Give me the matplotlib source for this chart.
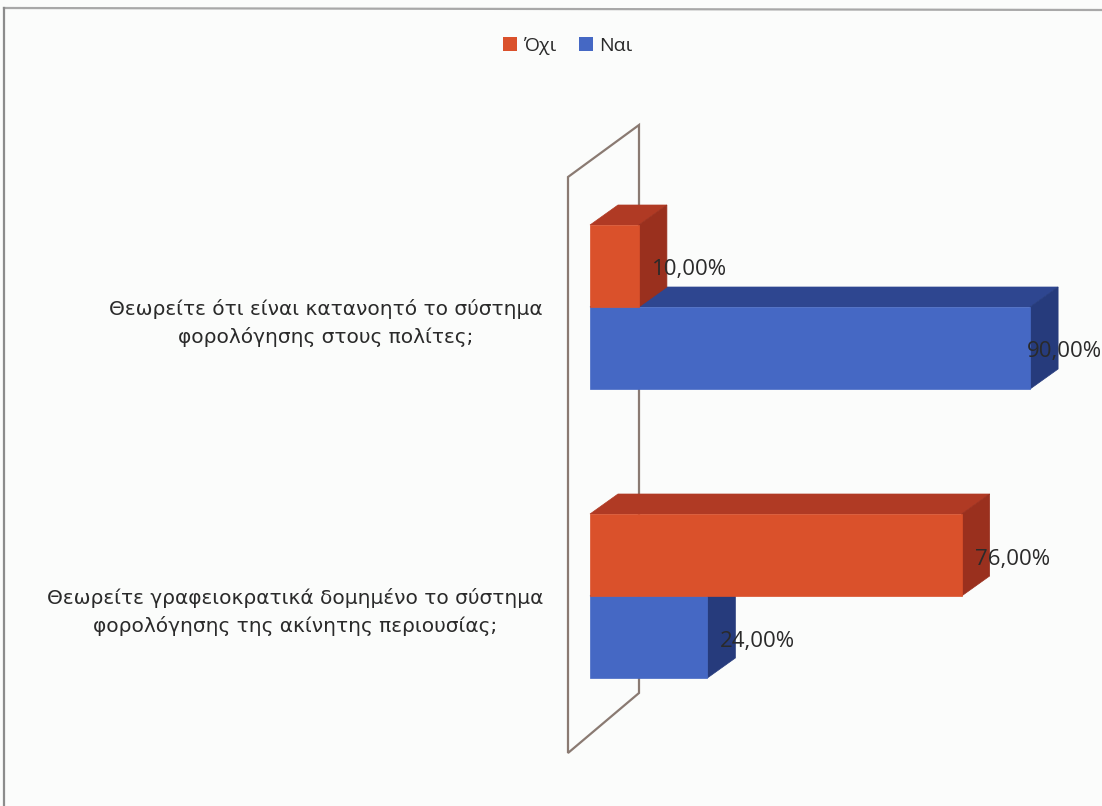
import matplotlib
matplotlib.use("Agg")
import matplotlib.pyplot as plt
from matplotlib.patches import Polygon, Patch
from matplotlib.lines import Line2D

# ---- data -------------------------------------------------------------
categories = [
    "Θεωρείτε ότι είναι κατανοητό το σύστημα\nφορολόγησης στους πολίτες;",
    "Θεωρείτε γραφειοκρατικά δομημένο το σύστημα\nφορολόγησης της ακίνητης περιουσίας;",
]
series_names = ["Όχι", "Ναι"]
no_values = [10.0, 76.0]    # Όχι (%)
yes_values = [90.0, 24.0]   # Ναι (%)

# ---- styling ----------------------------------------------------------
W, H = 1102, 806
no_colors = dict(front="#DA512B", top="#B03A24", side="#9A301E")
yes_colors = dict(front="#4568C4", top="#2E4690", side="#263B7C")
text_color = "#2a2a2a"
font = ["Open Sans", "DejaVu Sans"]
cat_font = ["DejaVu Sans"]

fig = plt.figure(figsize=(W / 100, H / 100), dpi=100)
fig.patch.set_facecolor("#fbfcfb")
ax = fig.add_axes([0, 0, 1, 1])
ax.set_axis_off()
ax.patch.set_alpha(0)

# value axis: percent, category axis: one unit per question (top to bottom)
px_per_pct = 4.89
x0_px = 590
px_per_cat = 289
y0_px = 307
ax.set_xlim(-x0_px / px_per_pct, (W - x0_px) / px_per_pct)
ax.set_ylim((H - y0_px) / px_per_cat, -y0_px / px_per_cat)

def px_x(p):
    return (p - x0_px) / px_per_pct

def px_y(p):
    return (p - y0_px) / px_per_cat

bar_h = 82 / px_per_cat
dx = 28 / px_per_pct          # oblique depth of the boxes
dy = -20 / px_per_cat

# back wall of the 3-D plot area
wall = Polygon([(px_x(568), px_y(177)), (px_x(639), px_y(125)),
                (px_x(639), px_y(693)), (px_x(568), px_y(753))],
               closed=True, fill=False, edgecolor="#8a7a72", lw=1.6, zorder=1)
ax.add_patch(wall)

def box(value, top, bottom, colors, z):
    front = [(0, top), (value, top), (value, bottom), (0, bottom)]
    lid = [(0, top), (value, top), (value + dx, top + dy), (dx, top + dy)]
    side = [(value, top), (value + dx, top + dy),
            (value + dx, bottom + dy), (value, bottom)]
    for pts, key in ((lid, "top"), (side, "side"), (front, "front")):
        ax.add_patch(Polygon(pts, closed=True, facecolor=colors[key],
                             edgecolor=colors[key], lw=0.5, zorder=z))

for i, (no, yes) in enumerate(zip(no_values, yes_values)):
    z = 2 + i * 2
    box(yes, i, i + bar_h, yes_colors, z)
    box(no, i - bar_h, i, no_colors, z + 1)

def fmt(v):
    return f"{v:.2f}".replace(".", ",") + "%"

# value labels, kept inside the chart area
renderer = fig.canvas.get_renderer()
x_right = ax.get_xlim()[1]
for i, (no, yes) in enumerate(zip(no_values, yes_values)):
    for v, c in ((no, i - bar_h / 2), (yes, i + bar_h / 2)):
        t = ax.text(v + 13 / px_per_pct, c + 4 / px_per_cat, fmt(v),
                    ha="left", va="center", fontsize=16, color=text_color,
                    family=font, zorder=10)
        bb = t.get_window_extent(renderer)
        if bb.x1 > W:
            t.set_x(x_right)
            t.set_ha("right")

for i, label in enumerate(categories):
    ax.text(px_x(543), i + 16 / px_per_cat, label, ha="right", va="center",
            multialignment="center", fontsize=14.5, color=text_color,
            family=cat_font, linespacing=1.45, zorder=10)

# legend
handles = [Patch(facecolor=no_colors["front"], label=series_names[0]),
           Patch(facecolor=yes_colors["front"], label=series_names[1])]
fig.legend(handles=handles, loc="center", bbox_to_anchor=(0.515, 1 - 46 / H),
           ncol=2, frameon=False, handlelength=0.7, handleheight=0.7,
           handletextpad=0.3, columnspacing=1.2,
           prop=dict(family=font, size=14), labelcolor=text_color)

# chart border
fig.add_artist(Line2D([4 / W, 1], [1 - 8 / H, 1 - 10 / H], color="#a8a8a8",
                      lw=1.6, transform=fig.transFigure))
fig.add_artist(Line2D([4 / W, 4 / W], [1 - 8 / H, 0], color="#8c8c8c",
                      lw=1.6, transform=fig.transFigure))

fig.savefig("out.png", dpi=100, facecolor=fig.get_facecolor())
